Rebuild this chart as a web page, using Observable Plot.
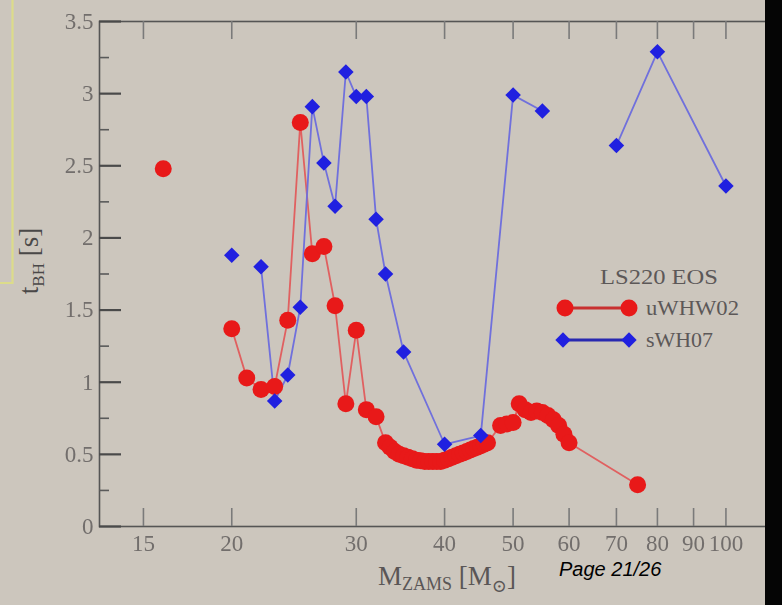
<!DOCTYPE html>
<html>
<head>
<meta charset="utf-8">
<script src="https://cdn.jsdelivr.net/npm/d3@7"></script>
<script src="https://cdn.jsdelivr.net/npm/@observablehq/plot@0.6"></script>
<style>
  html, body { margin: 0; padding: 0; background: #ccc6bd; }
  #wrap { position: relative; width: 782px; height: 605px; overflow: hidden; background: #ccc6bd; }
  #chart svg { display: block; filter: blur(0.6px); }
  #overlay { position: absolute; left: 0; top: 0; pointer-events: none; }
</style>
</head>
<body>
<div id="wrap">
  <div id="chart"></div>
  <svg id="overlay" width="782" height="605" xmlns="http://www.w3.org/2000/svg"></svg>
</div>
<script>
// ---- data ----
const redMass = [16, 20, 21, 22, 23, 24, 25, 26, 27, 28, 29, 30, 31, 32, 33, 33.5, 34, 34.5, 35, 35.5, 36, 36.5, 37, 37.5, 38, 38.5, 39, 39.5, 40, 40.5, 41, 41.5, 42, 42.5, 43, 43.5, 44, 44.5, 45, 45.5, 46, 48, 49, 50, 51, 52, 53, 54, 55, 56, 57, 58, 59, 60, 75];
const redTime = [2.48, 1.37, 1.03, 0.95, 0.97, 1.43, 2.80, 1.89, 1.94, 1.53, 0.85, 1.36, 0.81, 0.76, 0.58, 0.55, 0.52, 0.50, 0.49, 0.48, 0.47, 0.46, 0.455, 0.45, 0.45, 0.45, 0.45, 0.45, 0.46, 0.47, 0.48, 0.49, 0.50, 0.51, 0.52, 0.53, 0.54, 0.55, 0.56, 0.57, 0.58, 0.70, 0.71, 0.72, 0.85, 0.81, 0.79, 0.80, 0.79, 0.77, 0.74, 0.70, 0.64, 0.58, 0.29];
const redBreaks = [20];          // a new connected segment starts at these masses

const blueMass = [20, 22, 23, 24, 25, 26, 27, 28, 29, 30, 31, 32, 33, 35, 40, 45, 50, 55, 70, 80, 100];
const blueTime = [1.88, 1.80, 0.87, 1.05, 1.52, 2.91, 2.52, 2.22, 3.15, 2.98, 2.98, 2.13, 1.75, 1.21, 0.57, 0.63, 2.99, 2.88, 2.64, 3.29, 2.36];
const blueBreaks = [22, 70];

const xTicks = [15, 20, 30, 40, 50, 60, 70, 80, 90, 100];
const xTickLabels = ["15", "20", "30", "40", "50", "60", "70", "80", "90", "100"];
const yTicks = [0, 0.5, 1, 1.5, 2, 2.5, 3, 3.5];
const yTickLabels = ["0", "0.5", "1", "1.5", "2", "2.5", "3", "3.5"];
const yMinorTicks = [0.25, 0.75, 1.25, 1.75, 2.25, 2.75, 3.25];

const legendTitle = "LS220 EOS";
const seriesNames = ["uWHW02", "sWH07"];

// ---- build tables ----
const segOf = (m, breaks) => breaks.filter(b => b <= m).length;
const red = redMass.map((m, i) => ({m, t: redTime[i], seg: segOf(m, redBreaks)}));
const blue = blueMass.map((m, i) => ({m, t: blueTime[i], seg: segOf(m, blueBreaks)}));

const W = 782, H = 605;
const mL = 99, mR = 11, mT = 21, mB = 79;
const plotW = W - mL - mR, plotH = H - mT - mB;
const axisCol = "#555";

const chart = Plot.plot({
  width: W, height: H,
  marginLeft: mL, marginRight: mR, marginTop: mT, marginBottom: mB,
  style: {background: "transparent", fontFamily: "'Liberation Serif', 'DejaVu Serif', serif", fontSize: "23px", color: "#726e6c"},
  x: {type: "log", domain: [13, 116]},
  y: {domain: [0, 3.5]},
  marks: [
    Plot.frame({stroke: axisCol, strokeWidth: 1.6}),
    Plot.tickY(yTicks, {y: d => d, stroke: "#4a4a4a", strokeWidth: 2.2, insetRight: plotW - 22}),
    Plot.tickY(yMinorTicks, {y: d => d, stroke: "#5a5a5a", strokeWidth: 1.6, insetRight: plotW - 10}),
    Plot.tickX(xTicks, {x: d => d, stroke: "#7a7a7a", strokeWidth: 1.6, insetTop: plotH - 18}),
    Plot.tickX(xTicks, {x: d => d, stroke: "#7a7a7a", strokeWidth: 1.6, insetBottom: plotH - 18}),
    Plot.axisX(xTicks, {tickSize: 0, tickPadding: 8, label: null, tickFormat: d => xTickLabels[xTicks.indexOf(d)]}),
    Plot.axisY(yTicks, {tickSize: 0, tickPadding: 6, label: null, tickFormat: d => yTickLabels[yTicks.indexOf(d)]}),
    Plot.line(red, {x: "m", y: "t", z: "seg", stroke: "#e06060", strokeWidth: 1.8}),
    Plot.line(blue, {x: "m", y: "t", z: "seg", stroke: "#7070dc", strokeWidth: 1.8}),
    Plot.dot(red, {x: "m", y: "t", r: 8.5, fill: "#e81919", stroke: "none"}),
    Plot.dot(blue, {x: "m", y: "t", r: 7, symbol: "diamond2", fill: "#2020e0", stroke: "none"})
  ]
});
document.getElementById("chart").appendChild(chart);

// ---- overlay: labels, legend, slide decorations ----
const ov = d3.select("#overlay");
// yellow box edge at left
ov.append("path").attr("d", "M12.5,0 V283 H0").attr("fill", "none").attr("stroke", "#dcdc8a").attr("stroke-width", 2.2);

const serif = "'Liberation Serif', 'DejaVu Serif', serif";
// y label
const yl = ov.append("text").attr("transform", "translate(38,261) rotate(-90)")
  .attr("text-anchor", "middle").attr("font-family", serif).attr("font-size", 27).attr("fill", "#4a4848");
yl.append("tspan").text("t");
yl.append("tspan").attr("font-size", 17).attr("dy", 6).text("BH");
yl.append("tspan").attr("dy", -6).text(" [s]");

// x label
const xl = ov.append("text").attr("x", 447).attr("y", 585).attr("text-anchor", "middle")
  .attr("font-family", serif).attr("font-size", 27).attr("fill", "#5a5656");
xl.append("tspan").text("M");
xl.append("tspan").attr("font-size", 18).attr("dy", 5).text("ZAMS");
xl.append("tspan").attr("dy", -5).text(" [M");
xl.append("tspan").attr("font-size", 18).attr("dy", 7).text("\u2299");
xl.append("tspan").attr("dy", -7).text("]");

// legend
ov.append("text").attr("x", 600).attr("y", 284).attr("font-family", serif).attr("font-size", 21)
  .attr("fill", "#5c5858").attr("textLength", 118).attr("lengthAdjust", "spacingAndGlyphs").text(legendTitle);
ov.append("line").attr("x1", 565).attr("x2", 629).attr("y1", 308).attr("y2", 308).attr("stroke", "#c83030").attr("stroke-width", 3);
[565, 629].forEach(x => ov.append("circle").attr("cx", x).attr("cy", 308).attr("r", 8.5).attr("fill", "#e81919"));
ov.append("text").attr("x", 646).attr("y", 315).attr("font-family", serif).attr("font-size", 21)
  .attr("fill", "#5c5858").attr("textLength", 93).attr("lengthAdjust", "spacingAndGlyphs").text(seriesNames[0]);
ov.append("line").attr("x1", 563).attr("x2", 629).attr("y1", 340).attr("y2", 340).attr("stroke", "#2828b0").attr("stroke-width", 3);
const dsym = d3.symbol(d3.symbolDiamond2, 150)();
[563, 629].forEach(x => ov.append("path").attr("d", dsym).attr("transform", `translate(${x},340)`).attr("fill", "#2020e0"));
ov.append("text").attr("x", 646).attr("y", 347).attr("font-family", serif).attr("font-size", 21)
  .attr("fill", "#5c5858").attr("textLength", 67).attr("lengthAdjust", "spacingAndGlyphs").text(seriesNames[1]);

// page number
ov.append("text").attr("x", 559).attr("y", 576).attr("font-family", "'Liberation Sans', Arial, sans-serif")
  .attr("font-style", "italic").attr("font-size", 20).attr("fill", "#000").text("Page 21/26");

// black stripe at right
ov.append("rect").attr("x", 765).attr("y", 0).attr("width", 17).attr("height", 605).attr("fill", "#050505");
</script>
</body>
</html>
